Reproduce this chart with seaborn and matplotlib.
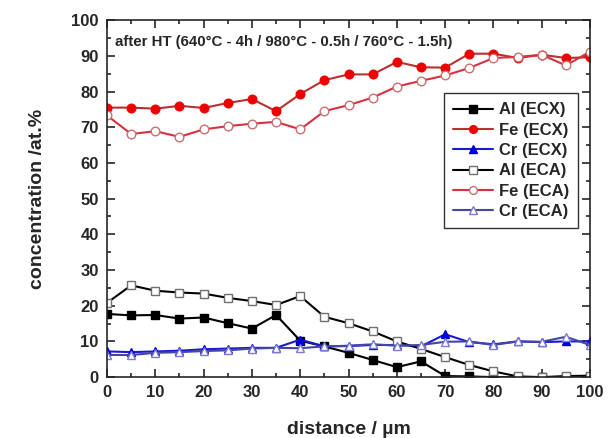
import matplotlib
matplotlib.use("Agg")
import matplotlib.pyplot as plt
from matplotlib.ticker import MultipleLocator
import seaborn as sns

sns.set_style("ticks")
plt.rcParams['font.family'] = ['Liberation Sans', 'DejaVu Sans']
plt.rcParams['font.weight'] = 'bold'

# distance in um
distance = [0, 5, 10, 15, 20, 25, 30, 35, 40, 45, 50, 55, 60, 65, 70, 75, 80, 85, 90, 95, 100]

# ECX (filled symbols)
al_ecx = [17.7, 17.3, 17.4, 16.4, 16.7, 15.1, 13.6, 17.4, 10.2, 8.6, 6.8, 4.8, 2.8, 4.4, 0.3, 0.2, 0.0, 0.0, 0.0, 0.0, 0.0]
fe_ecx = [75.5, 75.5, 75.2, 76.0, 75.4, 76.8, 77.9, 74.5, 79.3, 83.2, 84.8, 84.8, 88.3, 86.8, 86.7, 90.6, 90.6, 89.4, 90.3, 89.4, 89.6]
cr_ecx = [7.2, 7.0, 7.2, 7.4, 7.8, 8.0, 8.2, 8.2, 10.5, 8.6, 8.7, 9.0, 9.0, 8.6, 12.0, 9.8, 9.2, 10.0, 9.8, 10.0, 10.0]

# ECA (open symbols)
al_eca = [20.8, 25.7, 24.2, 23.7, 23.4, 22.2, 21.3, 20.2, 22.7, 16.9, 15.1, 12.8, 10.0, 7.9, 5.6, 3.4, 1.6, 0.2, 0.0, 0.3, 0.4]
fe_eca = [73.3, 68.1, 68.9, 67.3, 69.4, 70.3, 71.0, 71.5, 69.4, 74.5, 76.2, 78.3, 81.4, 83.0, 84.5, 86.6, 89.4, 89.7, 90.3, 87.3, 91.2]
cr_eca = [6.2, 6.2, 6.8, 7.0, 7.3, 7.5, 8.0, 8.2, 8.1, 8.6, 8.8, 9.2, 8.8, 9.0, 9.9, 10.0, 9.0, 10.0, 9.9, 11.3, 9.0]

fig = plt.figure(figsize=(6.13, 4.38), dpi=100)
ax = fig.add_axes([0.1746, 0.139, 0.788, 0.815])

series = [
    (al_ecx, "Al (ECX)", "black", "s", "black", "black"),
    (fe_ecx, "Fe (ECX)", "#b83030", "o", "#ee0000", "#ee0000"),
    (cr_ecx, "Cr (ECX)", "#1a1ad0", "^", "#0000dd", "#0000dd"),
    (al_eca, "Al (ECA)", "black", "s", "white", "#707070"),
    (fe_eca, "Fe (ECA)", "#d83040", "o", "white", "#c87070"),
    (cr_eca, "Cr (ECA)", "#4545a5", "^", "white", "#7a7ad0"),
]
for vals, name, lc, mk, mfc, mec in series:
    sns.lineplot(x=distance, y=vals, ax=ax, color=lc, marker=mk, markersize=6.2,
                 markerfacecolor=mfc, markeredgecolor=mec, markeredgewidth=1.0,
                 linewidth=1.5, label=name)

ax.set_xlim(0, 100)
ax.set_ylim(0, 100)
ax.xaxis.set_major_locator(MultipleLocator(10))
ax.xaxis.set_minor_locator(MultipleLocator(5))
ax.yaxis.set_major_locator(MultipleLocator(10))
ax.yaxis.set_minor_locator(MultipleLocator(5))
ax.tick_params(which='both', direction='in', top=True, right=True, width=1.2)
ax.tick_params(which='major', length=6, labelsize=12, pad=6)
ax.tick_params(which='minor', length=3)
for lab in ax.get_xticklabels() + ax.get_yticklabels():
    lab.set_fontweight('bold')
for sp in ax.spines.values():
    sp.set_linewidth(1.2)

ax.set_xlabel("distance / µm", fontsize=14, fontweight='bold', labelpad=15)
ax.set_ylabel("concentration /at.%", fontsize=14, fontweight='bold', labelpad=18)

ax.text(0.017, 0.938, "after HT (640°C - 4h / 980°C - 0.5h / 760°C - 1.5h)",
        transform=ax.transAxes, fontsize=10.8, fontweight='bold', va='center')

leg = ax.legend(loc='upper right', bbox_to_anchor=(0.975, 0.795), fontsize=12,
                frameon=True, fancybox=False, edgecolor='black', handlelength=2.4,
                borderpad=0.55, labelspacing=0.32, handletextpad=0.35,
                borderaxespad=0.0, markerscale=0.9)
leg.get_frame().set_linewidth(1.0)
for t in leg.get_texts():
    t.set_fontweight('bold')

fig.savefig("out.png", dpi=100)
